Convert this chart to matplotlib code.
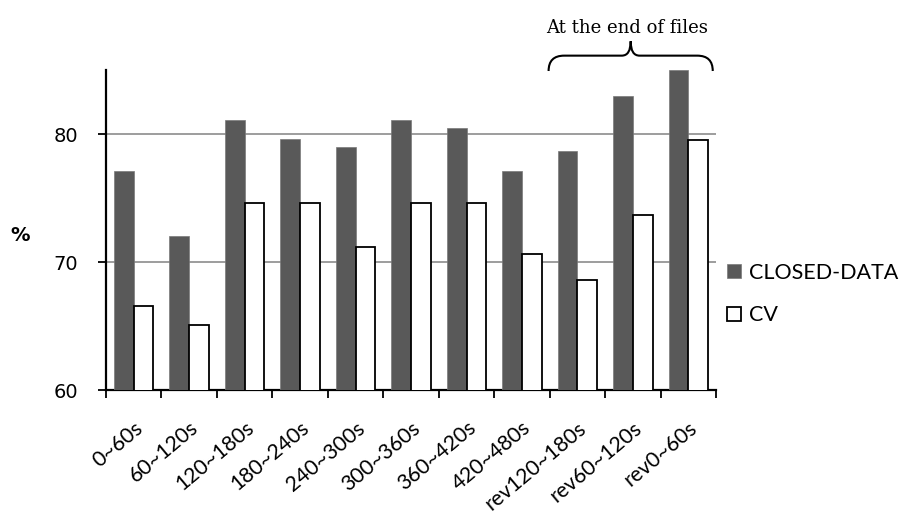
import matplotlib
matplotlib.use('Agg')
import matplotlib.pyplot as plt
import numpy as np
from matplotlib.path import Path
from matplotlib.patches import PathPatch
from matplotlib.transforms import blended_transform_factory

# 时间段类别
categories = ['0~60s', '60~120s', '120~180s', '180~240s', '240~300s', '300~360s',
              '360~420s', '420~480s', 'rev120~180s', 'rev60~120s', 'rev0~60s']
closed_data = [77.1, 72.0, 81.1, 79.6, 79.0, 81.1, 80.5, 77.1, 78.7, 83.0, 85.0]
cv = [66.6, 65.1, 74.6, 74.6, 71.2, 74.6, 74.6, 70.6, 68.6, 73.7, 79.5]
yticks = [60, 70, 80]

plt.rcParams['font.family'] = ['Lato', 'DejaVu Sans']

fig = plt.figure(figsize=(9.03, 5.15), dpi=100)
ax = fig.add_axes([0.1174, 0.2427, 0.6756, 0.6213])

x = np.arange(len(categories))
w = 0.356
ax.bar(x - w / 2, closed_data, width=w, color='#595959', edgecolor='#7a7a7a',
       linewidth=0.5, label='CLOSED-DATA', zorder=3)
ax.bar(x + w / 2, cv, width=w, color='white', edgecolor='black',
       linewidth=1.3, label='CV', zorder=3)

ax.set_xlim(-0.5, len(categories) - 0.5)
ax.set_ylim(60, 85)
ax.set_yticks(yticks)
ax.set_yticklabels([str(t) for t in yticks], fontsize=14, family='DejaVu Sans')
ax.tick_params(axis='y', length=6, width=1.3, pad=14)

# 刻度线放在类别之间
ax.set_xticks(np.arange(-0.5, len(categories), 1.0))
ax.set_xticklabels([])
ax.set_xticks(x, minor=True)
ax.set_xticklabels(categories, minor=True, rotation=40, ha='right',
                   rotation_mode='anchor', fontsize=15.3)
ax.tick_params(axis='x', which='major', length=6, width=1.3)
ax.tick_params(axis='x', which='minor', length=0, pad=20)

for s in ['top', 'right']:
    ax.spines[s].set_visible(False)
for s in ['left', 'bottom']:
    ax.spines[s].set_linewidth(1.6)
ax.yaxis.grid(True, color='#8c8c8c', linewidth=1.2, zorder=0)

ax.text(-0.14, 0.484, '%', transform=ax.transAxes, fontsize=14,
        fontweight='bold', ha='center', va='center', family='DejaVu Sans')

ax.legend(loc='center left', bbox_to_anchor=(1.0, 0.30), frameon=False,
          fontsize=15.5, handlelength=0.65, handleheight=0.65, handletextpad=0.4,
          labelspacing=1.05, borderaxespad=0.1)

# 大括号标注
trans = blended_transform_factory(ax.transData, ax.transAxes)
x0, x1 = 7.48, 10.44
xm = (x0 + x1) / 2
y0, y1, y2 = 0.997, 1.045, 1.09
r, rc = 0.28, 0.16
verts = [(x0, y0), (x0, y1), (x0 + r, y1),
         (xm - rc, y1),
         (xm, y1), (xm, y2),
         (xm, y1), (xm + rc, y1),
         (x1 - r, y1),
         (x1, y1), (x1, y0)]
codes = [Path.MOVETO, Path.CURVE3, Path.CURVE3,
         Path.LINETO,
         Path.CURVE3, Path.CURVE3,
         Path.CURVE3, Path.CURVE3,
         Path.LINETO,
         Path.CURVE3, Path.CURVE3]
ax.add_patch(PathPatch(Path(verts, codes), facecolor='none', edgecolor='black',
                       linewidth=1.5, transform=trans, clip_on=False))
ax.text(8.9, 1.13, 'At the end of files', transform=trans, ha='center',
        va='center', fontsize=13, family='DejaVu Serif')

fig.savefig('out.png', dpi=100)
